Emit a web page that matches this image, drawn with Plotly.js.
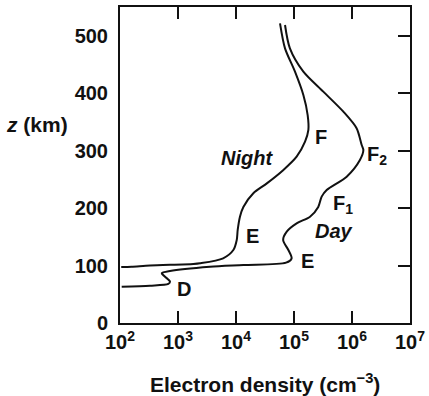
<!DOCTYPE html>
<html>
<head>
<meta charset="utf-8">
<script src="https://cdn.plot.ly/plotly-3.0.1.min.js"></script>
<style>html,body{margin:0;padding:0;background:#fff;}#chart{width:429px;height:396px;}</style>
</head>
<body>
<div id="chart"></div>
<script>
// Electron density (cm^-3) vs altitude z (km)
const nightDensity = [5.74e4, 7.0e4, 1.04e5, 1.45e5, 1.72e5, 1.77e5, 1.55e5, 1.11e5, 6.5e4, 3.4e4, 1.99e4, 1.34e4, 1.17e4, 1.07e4, 1.03e4, 9.0e3, 6.0e3, 2.4e3, 1.84e3, 330, 158, 105];
const nightAltitude = [521.6, 478, 437.5, 396.9, 362, 336, 315.6, 289.5, 266, 243, 225.8, 202, 185, 162, 144.5, 127, 112.6, 103.9, 102.7, 100, 98, 97.5];

const dayDensity = [7.0e4, 8.5e4, 1.45e5, 3.2e5, 7.1e5, 1.2e6, 1.47e6, 1.57e6, 1.37e6, 8.1e5, 3.66e5, 3.0e5, 2.62e5, 1.89e5, 1.11e5, 7.5e4, 6.5e4, 8.0e4, 9.1e4, 7.3e4, 1.34e4, 3.56e3, 728, 524, 597, 728, 681, 329, 107];
const dayAltitude = [518.7, 478, 437.5, 402.7, 367.8, 339, 309.8, 301, 283.7, 254.7, 231.5, 220, 202, 185, 173.4, 159, 144.5, 127, 112.5, 105, 101, 98, 90.5, 86.5, 80.6, 72, 68, 65, 63];

const xTickVals = [100, 1000, 10000, 100000, 1000000, 10000000];
const xTickText = ['10<sup>2</sup>', '10<sup>3</sup>', '10<sup>4</sup>', '10<sup>5</sup>', '10<sup>6</sup>', '10<sup>7</sup>'];
const yTickVals = [0, 100, 200, 300, 400, 500];

const ink = '#111111';
const fam = 'Liberation Sans, Arial, Helvetica, sans-serif';
const f20 = {family: fam, size: 20, color: ink, weight: 'bold'};
const f21 = {family: fam, size: 21, color: ink, weight: 'bold'};

const traces = [
  {x: nightDensity, y: nightAltitude, mode: 'lines', line: {color: ink, width: 2, shape: 'spline', smoothing: 0.8}, hoverinfo: 'skip', showlegend: false},
  {x: dayDensity, y: dayAltitude, yaxis: 'y2', mode: 'lines', line: {color: ink, width: 2, shape: 'spline', smoothing: 0.8}, hoverinfo: 'skip', showlegend: false}
];

function lab(text, x, y, italic) {
  return {text: text, x: x, y: y, xref: 'x', yref: 'y', showarrow: false,
    xanchor: 'center', yanchor: 'middle',
    font: Object.assign({}, f20, italic ? {style: 'italic'} : {})};
}

const layout = {
  width: 429, height: 396,
  margin: {l: 120, r: 19, t: 7, b: 73},
  paper_bgcolor: '#fff', plot_bgcolor: '#fff',
  showlegend: false,
  xaxis: {
    type: 'log', range: [2, 7], tickvals: xTickVals, ticktext: xTickText,
    ticks: 'inside', ticklen: 12, tickwidth: 2, tickcolor: ink,
    showline: true, linewidth: 2, linecolor: ink, mirror: 'ticks',
    showgrid: false, zeroline: false, tickfont: f20, fixedrange: true
  },
  yaxis: {
    range: [0, 550], tickvals: yTickVals, ticks: '',
    showline: true, linewidth: 2, linecolor: ink, mirror: true,
    showgrid: false, zeroline: false, tickfont: f20, ticklabelstandoff: 6, fixedrange: true
  },
  yaxis2: {
    range: [0, 550], tickvals: yTickVals, overlaying: 'y', side: 'right',
    ticks: 'inside', ticklen: 12, tickwidth: 2, tickcolor: ink,
    showticklabels: false, showline: false, showgrid: false, zeroline: false, fixedrange: true
  },
  annotations: [
    lab('Night', 4.19, 287, true),
    lab('F', 5.466, 324),
    lab('F<sub>2</sub>', 6.431, 292),
    lab('F<sub>1</sub>', 5.845, 207),
    lab('Day', 5.69, 160, true),
    lab('E', 4.293, 152),
    lab('E', 5.241, 108),
    lab('D', 3.103, 59),
    {text: '<i>z</i> (km)', xref: 'paper', yref: 'paper', x: -0.172, y: 0.627, showarrow: false,
     xanchor: 'right', yanchor: 'middle', font: f21},
    {text: 'Electron density (cm<sup>\u22123</sup>)', xref: 'paper', yref: 'paper', x: 0.5, y: -0.19, showarrow: false,
     xanchor: 'center', yanchor: 'middle', font: f21}
  ]
};

Plotly.newPlot('chart', traces, layout, {staticPlot: true, displayModeBar: false});
</script>
</body>
</html>
